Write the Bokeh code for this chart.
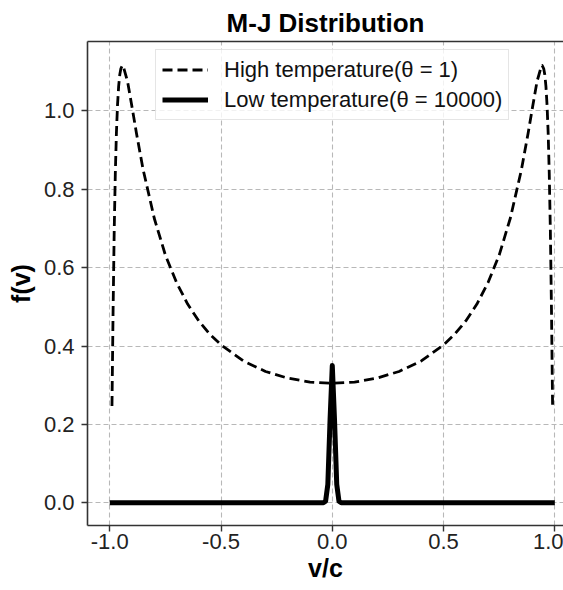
from bokeh.plotting import figure
from bokeh.models import (Range1d, FixedTicker, LinearAxis, Legend, LegendItem,
                          Title, PrintfTickFormatter)
from bokeh.embed import file_html
from bokeh.resources import INLINE

# ---- data ----
v_high = [-0.99, -0.985, -0.98, -0.975, -0.97, -0.965, -0.96, -0.955, -0.95, -0.943,
          -0.94, -0.92, -0.90, -0.88, -0.85, -0.80, -0.75, -0.70, -0.65, -0.60,
          -0.55, -0.50, -0.40, -0.30, -0.20, -0.10, 0.0,
          0.10, 0.20, 0.30, 0.40, 0.50, 0.55, 0.60, 0.65, 0.70, 0.75, 0.80, 0.85,
          0.88, 0.90, 0.92, 0.94, 0.943, 0.95, 0.955, 0.96, 0.965, 0.97, 0.975,
          0.98, 0.985, 0.99]
f_high = [0.247, 0.491, 0.693, 0.840, 0.945, 1.016, 1.063, 1.092, 1.108, 1.116,
          1.115, 1.075, 1.010, 0.943, 0.850, 0.726, 0.632, 0.562, 0.507, 0.464,
          0.430, 0.403, 0.362, 0.335, 0.318, 0.308, 0.305,
          0.308, 0.318, 0.335, 0.362, 0.403, 0.430, 0.464, 0.507, 0.562, 0.632, 0.726, 0.850,
          0.943, 1.010, 1.075, 1.115, 1.116, 1.108, 1.092, 1.063, 1.016, 0.945, 0.840,
          0.693, 0.491, 0.247]

v_low = [-1.0, -0.05, -0.04, -0.03, -0.02, -0.01, 0.0, 0.01, 0.02, 0.03, 0.04, 0.05, 1.0]
f_low = [0.0, 0.0, 0.0001, 0.004, 0.047, 0.212, 0.350, 0.212, 0.047, 0.004, 0.0001, 0.0, 0.0]

label_high = "High temperature(θ = 1)"
label_low = "Low temperature(θ = 10000)"
title_text = "M-J Distribution"
x_label = "v/c"
y_label = "f(v)"

x_ticks = [-1.0, -0.5, 0.0, 0.5, 1.0]
y_ticks = [0.0, 0.2, 0.4, 0.6, 0.8, 1.0]

FONT = "Liberation Sans"
SPINE = "#333333"

p = figure(width=563, height=590, output_backend="svg", toolbar_location=None,
           x_range=Range1d(-1.1, 1.039), y_range=Range1d(-0.058, 1.177),
           min_border_left=87, min_border_right=0, min_border_top=41,
           min_border_bottom=65, title=None)
p.outline_line_color = None
p.background_fill_color = "white"

for ax, ticks in ((p.xaxis[0], x_ticks), (p.yaxis[0], y_ticks)):
    ax.ticker = FixedTicker(ticks=ticks)
    ax.formatter = PrintfTickFormatter(format="%.1f")
    ax.axis_line_color = SPINE
    ax.axis_line_width = 1.6
    ax.major_tick_line_color = SPINE
    ax.major_tick_line_width = 1.4
    ax.major_tick_out = 6
    ax.major_tick_in = 0
    ax.minor_tick_out = 0
    ax.minor_tick_in = 0
    ax.major_label_text_font = FONT
    ax.major_label_text_font_size = "22px"
    ax.major_label_text_color = "#222222"

p.xaxis.major_label_standoff = 2
p.yaxis.major_label_standoff = 7

p.yaxis.axis_label = y_label
p.yaxis.axis_label_text_font = FONT
p.yaxis.axis_label_text_font_size = "25px"
p.yaxis.axis_label_text_font_style = "bold"
p.yaxis.axis_label_text_color = "black"
p.yaxis.axis_label_standoff = 6

top_axis = LinearAxis(ticker=FixedTicker(ticks=[]), major_label_text_font_size="0px",
                      axis_line_color=SPINE, axis_line_width=1.6,
                      major_tick_out=0, major_tick_in=0, minor_tick_out=0, minor_tick_in=0,
                      major_label_standoff=0)
p.add_layout(top_axis, "above")

p.add_layout(Title(text=title_text, align="center", offset=7.5, standoff=8, text_font=FONT,
                   text_font_size="26px", text_font_style="bold", text_color="black"),
             "above")
p.add_layout(Title(text=x_label, align="center", offset=7.5, standoff=0, text_font=FONT,
                   text_font_size="25px", text_font_style="bold", text_color="black"),
             "below")

p.xgrid.ticker = FixedTicker(ticks=x_ticks)
p.ygrid.ticker = FixedTicker(ticks=y_ticks)
p.grid.grid_line_color = "#b8b8b8"
p.grid.grid_line_dash = "5 3"
p.grid.grid_line_width = 1.1

r_high = p.line(v_high, f_high, line_color="black", line_width=2.8, line_dash="10 5",
                line_join="round", line_cap="butt")
r_low = p.line(v_low, f_low, line_color="black", line_width=5, line_join="round")

legend = Legend(items=[LegendItem(label=label_high, renderers=[r_high]),
                       LegendItem(label=label_low, renderers=[r_low])],
                location=(68, 405), padding=6, spacing=3,
                glyph_width=46, glyph_height=27, label_height=27, label_standoff=16,
                label_text_font=FONT, label_text_font_size="22px", label_text_color="#111111",
                border_line_color="#cccccc", border_line_width=1.2,
                background_fill_color="white", background_fill_alpha=0.8)
p.add_layout(legend)

open("out.html", "w").write(file_html(p, INLINE))
